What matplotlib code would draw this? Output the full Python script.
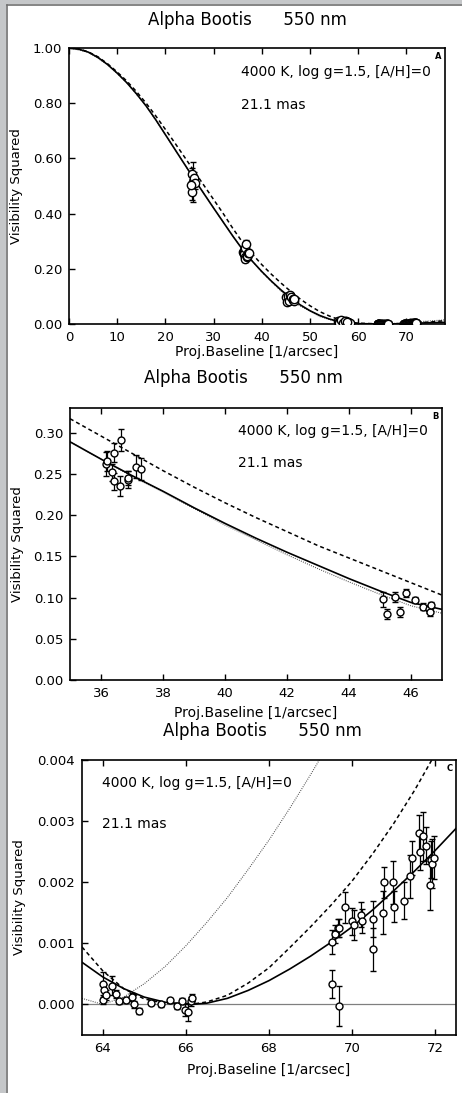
import numpy as np
import matplotlib
matplotlib.use("Agg")
import matplotlib.pyplot as plt
from matplotlib.patches import Rectangle
from matplotlib.lines import Line2D

plt.rcParams['font.family'] = ['DejaVu Sans']

# ---------------- data ----------------
title_text = "Alpha Bootis      550 nm"
model_text = "4000 K, log g=1.5, [A/H]=0"
diam_text = "21.1 mas"
xlabel_text = "Proj.Baseline [1/arcsec]"
ylabel_text = "Visibility Squared"

# Data cluster near 25.5 /arcsec (panel A only)
u25 = [25.5, 25.6, 25.8, 25.9, 26.2, 25.4]
v25 = [0.545, 0.48, 0.515, 0.53, 0.51, 0.505]
e25 = [0.02, 0.03, 0.072, 0.02, 0.02, 0.03]

# Panel B data
bu = [36.16, 36.2, 36.36, 36.43, 36.43, 36.6, 36.65, 36.86, 36.88, 37.14, 37.3,
      45.11, 45.24, 45.49, 45.64, 45.84, 46.13, 46.38, 46.57, 46.6, 46.63]
bv = [0.262, 0.266, 0.252, 0.276, 0.241, 0.235, 0.291, 0.243, 0.245, 0.259, 0.256,
      0.098, 0.080, 0.101, 0.083, 0.106, 0.097, 0.089, 0.086, 0.082, 0.091]
be = [0.015, 0.012, 0.010, 0.011, 0.010, 0.012, 0.013, 0.010, 0.009, 0.014, 0.013,
      0.009, 0.006, 0.006, 0.006, 0.005, 0.004, 0.004, 0.005, 0.004, 0.004]

# Cluster near 57 /arcsec (panel A only)
u56 = [55.8, 56.0, 56.2, 56.4, 56.6, 56.8, 57.0, 57.2, 57.4, 57.6, 57.8, 58.0, 58.2,
       56.1, 56.5, 56.9, 57.3, 57.7]
v56 = [0.010, 0.008, 0.012, 0.006, 0.009, 0.011, 0.007, 0.008, 0.010, 0.006, 0.007,
       0.005, 0.004, 0.004, 0.013, 0.004, 0.012, 0.009]
e56 = [0.003, 0.003, 0.003, 0.003, 0.003, 0.003, 0.003, 0.003, 0.003, 0.003, 0.003,
       0.003, 0.003, 0.003, 0.003, 0.003, 0.003, 0.003]

# Panel C data (V^2 in units of 1e-3)
cu = [64.0, 64.0, 64.04, 64.08, 64.23, 64.32, 64.4, 64.55, 64.71, 64.76, 64.87, 65.17,
      65.39, 65.61, 65.79, 65.91, 65.97, 66.05, 66.13, 66.15,
      69.51, 69.59, 69.65, 69.69, 69.51, 69.69, 69.83, 69.99, 70.05, 70.21, 70.23, 70.51,
      70.51, 70.74, 70.77, 70.99, 71.02, 71.25, 71.39, 71.44, 71.61, 71.64, 71.7, 71.77,
      71.88, 71.89, 71.92, 71.97]
cv_milli = [0.33, 0.08, 0.24, 0.16, 0.31, 0.17, 0.05, 0.08, 0.12, 0.0, -0.10, 0.03,
            0.0, 0.07, -0.02, 0.05, -0.09, -0.12, 0.05, 0.11,
            1.02, 1.15, 1.25, 1.25, 0.34, -0.02, 1.59, 1.36, 1.30, 1.47, 1.37, 1.40,
            0.90, 1.50, 2.00, 2.00, 1.60, 1.70, 2.10, 2.40, 2.80, 2.50, 2.75, 2.60,
            1.95, 2.37, 2.30, 2.40]
ce_milli = [0.20, 0.08, 0.10, 0.08, 0.15, 0.06, 0.05, 0.05, 0.06, 0.06, 0.05, 0.04,
            0.04, 0.04, 0.05, 0.05, 0.10, 0.15, 0.08, 0.06,
            0.20, 0.15, 0.15, 0.15, 0.23, 0.33, 0.25, 0.22, 0.25, 0.20, 0.20, 0.30,
            0.35, 0.35, 0.25, 0.35, 0.25, 0.30, 0.35, 0.28, 0.30, 0.30, 0.40, 0.30,
            0.40, 0.30, 0.40, 0.35]

# Model curves, panel A (full range)
sA_u = [0, 2, 4, 6, 8, 10, 12, 14, 16, 18, 20, 22, 24, 26, 28, 30, 32, 34, 36, 38, 40,
        42, 44, 46, 48, 50, 52, 54, 56, 58, 60, 64, 66, 70, 74, 78]
sA_v = [1.0, 0.996, 0.985, 0.966, 0.940, 0.909, 0.874, 0.834, 0.790, 0.740, 0.686,
        0.632, 0.578, 0.524, 0.472, 0.420, 0.369, 0.318, 0.270, 0.228, 0.190,
        0.155, 0.123, 0.094, 0.069, 0.048, 0.031, 0.018, 0.009, 0.0035, 0.0012,
        0.0004, 0.0, 0.0013, 0.0042, 0.0060]
dA_u = [0, 2, 4, 6, 8, 10, 12, 14, 16, 18, 20, 22, 24, 26, 28, 30, 32, 34, 36, 38, 40,
        42, 44, 46, 48, 50, 52, 54, 56, 58, 60, 64, 66, 70, 72, 74, 78]
dA_v = [1.0, 0.997, 0.986, 0.968, 0.943, 0.913, 0.880, 0.842, 0.800, 0.754, 0.705,
        0.655, 0.604, 0.553, 0.502, 0.451, 0.400, 0.346, 0.296, 0.254, 0.215,
        0.180, 0.148, 0.118, 0.090, 0.066, 0.045, 0.029, 0.016, 0.0075, 0.003,
        0.0005, 0.0, 0.0023, 0.0037, 0.006, 0.012]
oA_u = [0, 4, 8, 12, 16, 20, 24, 28, 32, 36, 40, 44, 46, 48, 52, 56, 60, 64, 66, 70, 78]
oA_v = [1.0, 0.985, 0.940, 0.874, 0.790, 0.686, 0.578, 0.472, 0.369, 0.269, 0.188,
        0.119, 0.089, 0.065, 0.027, 0.006, 0.0008, 0.0, 0.001, 0.005, 0.015]

# Model curves, panel B
sB_u = [35, 36, 37, 38, 39, 40, 41, 42, 43, 44, 45, 46, 47]
sB_v = [0.289, 0.268, 0.248, 0.229, 0.209, 0.190, 0.172, 0.155, 0.139, 0.123, 0.108,
        0.094, 0.0857]
dB_u = [35, 36, 37, 38, 39, 40, 41, 42, 43, 44, 45, 46, 47]
dB_v = [0.317, 0.296, 0.275, 0.254, 0.234, 0.215, 0.197, 0.180, 0.163, 0.148, 0.133,
        0.118, 0.103]
oB_u = [35, 36, 37, 38, 39, 40, 41, 42, 43, 44, 45, 46, 47]
oB_v = [0.289, 0.268, 0.247, 0.228, 0.208, 0.188, 0.170, 0.152, 0.135, 0.119, 0.104,
        0.090, 0.081]

# Model curves, panel C (units of 1e-3)
sC_u = [63.5, 64.0, 64.5, 65.0, 65.5, 66.1, 66.5, 67.0, 67.5, 68.0, 68.5, 69.0, 69.5,
        70.0, 70.5, 71.0, 71.5, 72.0, 72.5]
sC_v = [0.69, 0.45, 0.26, 0.12, 0.036, 0.0, 0.02, 0.10, 0.23, 0.39, 0.58, 0.79, 1.02,
        1.27, 1.55, 1.86, 2.18, 2.52, 2.88]
dC_u = [63.5, 64.0, 64.5, 65.0, 65.5, 66.1, 66.5, 67.0, 67.5, 68.0, 68.5, 69.0, 69.5,
        70.0, 70.5, 71.0, 71.5, 72.0, 72.5]
dC_v = [0.94, 0.55, 0.26, 0.09, 0.02, 0.0, 0.04, 0.15, 0.35, 0.60, 0.93, 1.27, 1.63,
        2.02, 2.47, 2.96, 3.50, 4.10, 4.70]
oC_u = [63.5, 64.0, 64.5, 65.0, 65.5, 66.0, 66.5, 67.0, 67.5, 68.0, 68.5, 69.0, 69.5]
oC_v = [0.10, 0.0, 0.12, 0.34, 0.62, 0.96, 1.34, 1.75, 2.21, 2.69, 3.21, 3.76, 4.33]

# ---------------- figure ----------------
W, H = 462, 1093
fig = plt.figure(figsize=(W / 100, H / 100), dpi=100, facecolor='white')
gray = '#c5c7c9'
fig.add_artist(Rectangle((0, 0), 6 / W, 1, transform=fig.transFigure,
                         facecolor=gray, edgecolor='none'))
fig.add_artist(Rectangle((0, (H - 4) / H), 1, 4 / H, transform=fig.transFigure,
                         facecolor=gray, edgecolor='none'))
fig.add_artist(Line2D([6.5 / W, 6.5 / W], [0, (H - 4.5) / H], color='#707070', lw=1.2,
                      transform=fig.transFigure))
fig.add_artist(Line2D([6.5 / W, 1], [(H - 4.5) / H, (H - 4.5) / H], color='#707070',
                      lw=1.2, transform=fig.transFigure))


def px_axes(l, t, r, b):
    return fig.add_axes([l / W, 1 - b / H, (r - l) / W, (b - t) / H])


def style(ax):
    for s in ax.spines.values():
        s.set_linewidth(1.2)
    ax.tick_params(axis='both', direction='in', top=True, right=False, length=4,
                   width=1.0, labelsize=9.5, pad=5)


mk = dict(fmt='o', mfc='white', mec='black', ecolor='black', mew=1.0,
          elinewidth=0.9, capthick=0.9, zorder=5)
dash = (0, (2.6, 2.0))
dot = (0, (0.8, 1.2))

# ---- Panel A ----
axA = px_axes(69, 48, 445, 324)
style(axA)
axA.plot(oA_u, oA_v, color='#444444', lw=0.8, ls=dot, zorder=2)
axA.plot(dA_u, dA_v, color='black', lw=1.1, ls=dash, zorder=3)
axA.plot(sA_u, sA_v, color='black', lw=1.2, zorder=4)
uA = np.concatenate([u25, bu, u56, cu])
vA = np.concatenate([v25, bv, v56, np.array(cv_milli) * 1e-3])
eA = np.concatenate([e25, be, e56, np.array(ce_milli) * 1e-3])
axA.errorbar(uA, vA, yerr=eA, ms=6, capsize=2.5, **mk)
axA.set_xlim(0, 78)
axA.set_ylim(0, 1.0)
axA.set_xticks(range(0, 80, 10))
axA.set_yticks([0, 0.2, 0.4, 0.6, 0.8, 1.0])
axA.yaxis.set_major_formatter(matplotlib.ticker.FormatStrFormatter('%.2f'))
axA.text(0.457, 0.913, model_text, transform=axA.transAxes, fontsize=10, va='center')
axA.text(0.457, 0.793, diam_text, transform=axA.transAxes, fontsize=10, va='center')
axA.text(0.99, 0.985, "A", transform=axA.transAxes, fontsize=6, fontweight='bold',
         ha='right', va='top')

# ---- Panel B ----
axB = px_axes(70, 408, 442, 680)
style(axB)
axB.plot(oB_u, oB_v, color='#444444', lw=0.8, ls=dot, zorder=2)
axB.plot(dB_u, dB_v, color='black', lw=1.1, ls=dash, zorder=3)
axB.plot(sB_u, sB_v, color='black', lw=1.2, zorder=4)
axB.errorbar(bu, bv, yerr=be, ms=5, capsize=2.5, **mk)
axB.set_xlim(35, 47)
axB.set_ylim(0, 0.33)
axB.set_xticks(range(36, 47, 2))
axB.set_yticks([0, 0.05, 0.10, 0.15, 0.20, 0.25, 0.30])
axB.yaxis.set_major_formatter(matplotlib.ticker.FormatStrFormatter('%.2f'))
axB.text(0.452, 0.915, model_text, transform=axB.transAxes, fontsize=10, va='center')
axB.text(0.452, 0.798, diam_text, transform=axB.transAxes, fontsize=10, va='center')
axB.text(0.99, 0.985, "B", transform=axB.transAxes, fontsize=6, fontweight='bold',
         ha='right', va='top')

# ---- Panel C ----
axC = px_axes(82, 760, 456, 1035)
style(axC)
axC.axhline(0, color='black', lw=0.9, ls=(0, (0.8, 0.8)), zorder=1)
axC.plot(oC_u, np.array(oC_v) * 1e-3, color='#444444', lw=0.8, ls=dot, zorder=2)
axC.plot(dC_u, np.array(dC_v) * 1e-3, color='black', lw=1.1, ls=dash, zorder=3)
axC.plot(sC_u, np.array(sC_v) * 1e-3, color='black', lw=1.2, zorder=4)
axC.errorbar(cu, np.array(cv_milli) * 1e-3, yerr=np.array(ce_milli) * 1e-3, ms=5,
             capsize=2.5, **mk)
axC.set_xlim(63.5, 72.5)
axC.set_ylim(-0.0005, 0.004)
axC.set_xticks(range(64, 73, 2))
axC.set_yticks([0, 0.001, 0.002, 0.003, 0.004])
axC.yaxis.set_major_formatter(matplotlib.ticker.FormatStrFormatter('%.3f'))
axC.text(0.053, 0.917, model_text, transform=axC.transAxes, fontsize=10, va='center')
axC.text(0.053, 0.766, diam_text, transform=axC.transAxes, fontsize=10, va='center')
axC.text(0.99, 0.985, "C", transform=axC.transAxes, fontsize=6, fontweight='bold',
         ha='right', va='top')

# ---- titles and axis labels placed in pixels ----
def ftext(x, y, s, **kw):
    fig.text(x / W, 1 - y / H, s, ha='center', va='center', **kw)

for (tx, ty) in [(247, 20), (243, 378), (262, 731)]:
    ftext(tx, ty, title_text, fontsize=12)
for (lx, ly) in [(257, 352), (256, 713), (269, 1070)]:
    ftext(lx, ly, xlabel_text, fontsize=10)
for (yx, yy) in [(17, 186), (18, 544), (20, 897)]:
    ftext(yx, yy, ylabel_text, fontsize=9.5, rotation=90)

fig.savefig("out.png", dpi=100, facecolor=fig.get_facecolor())
